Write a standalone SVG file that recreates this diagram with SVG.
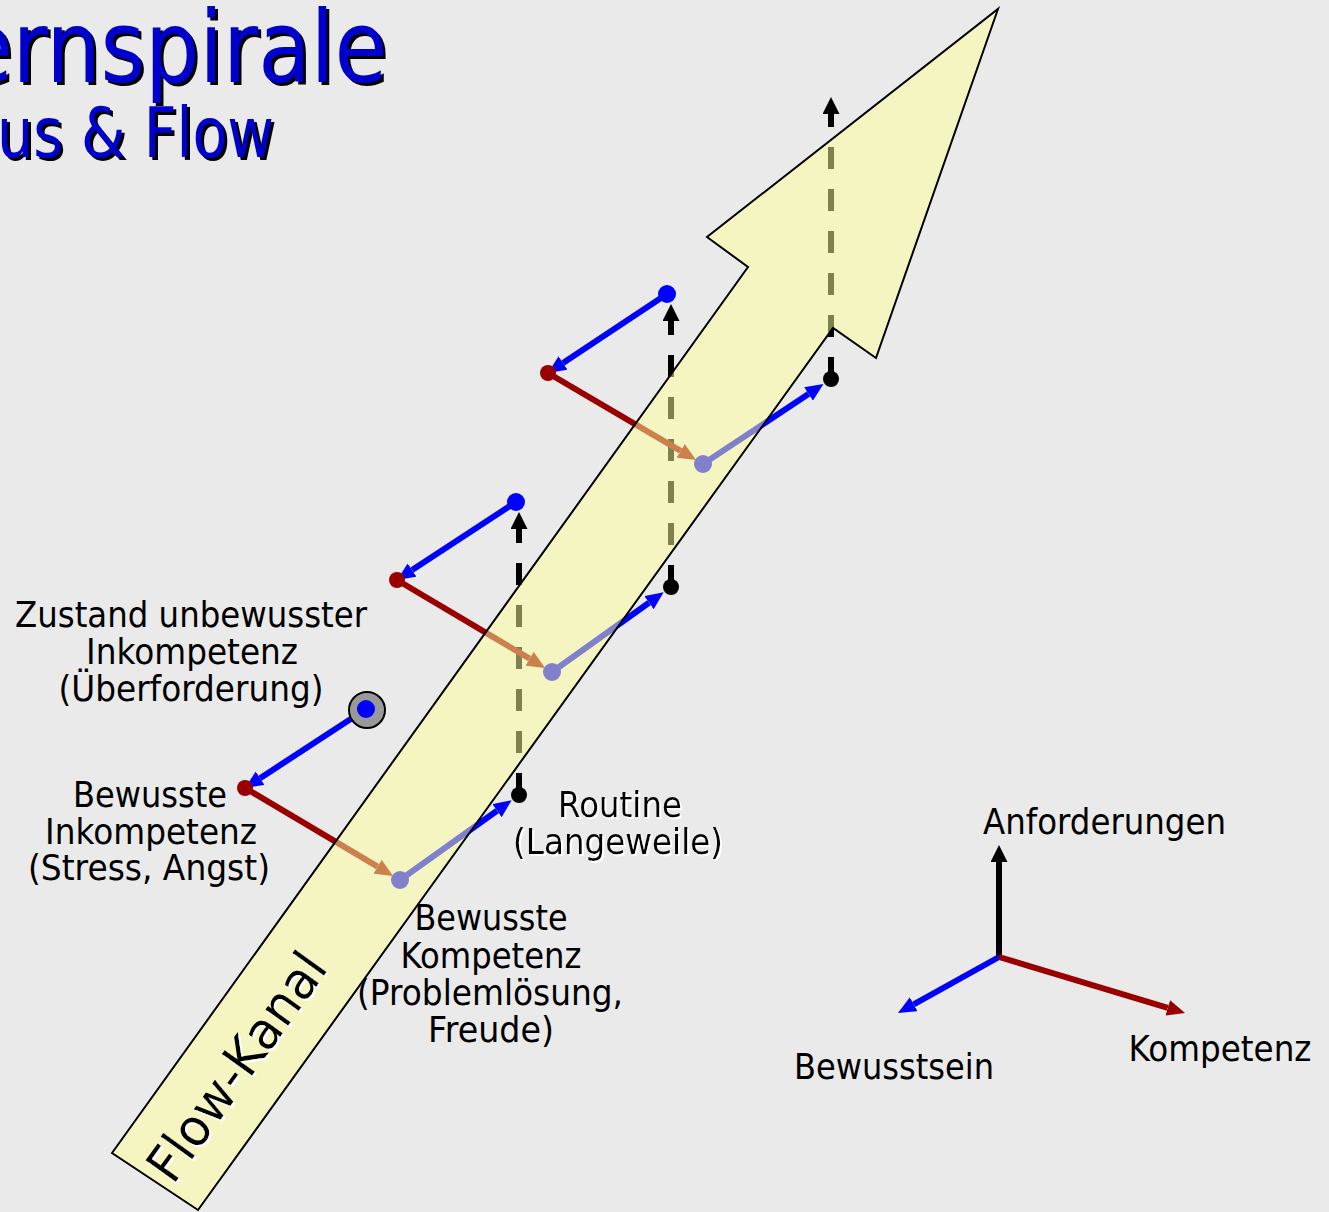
<svg xmlns="http://www.w3.org/2000/svg" width="1329" height="1212" viewBox="0 0 1329 1212">
<defs>
<style>
.t{font-family:"DejaVu Sans","Liberation Sans",sans-serif;font-size:36px;fill:#000}
.ti{font-family:"DejaVu Sans","Liberation Sans",sans-serif;fill:#0000cc}
.ts{font-family:"DejaVu Sans","Liberation Sans",sans-serif;fill:#000}
.ln{fill:none;stroke-width:6;stroke-linecap:butt}
.b{stroke:#0000ff}
.r{stroke:#990000}
.k{stroke:#000}
.d{stroke-dasharray:22 20}
</style>
<filter id="shk" x="-10%" y="-10%" width="120%" height="140%">
<feOffset in="SourceAlpha" dx="3" dy="3" result="o"/>
<feFlood flood-color="#000"/>
<feComposite in2="o" operator="in" result="s"/>
<feMerge><feMergeNode in="s"/><feMergeNode in="SourceGraphic"/></feMerge>
</filter>
<filter id="shw" x="-10%" y="-10%" width="120%" height="130%">
<feOffset in="SourceAlpha" dx="1.5" dy="1.5" result="o"/>
<feFlood flood-color="#fff"/>
<feComposite in2="o" operator="in" result="s"/>
<feMerge><feMergeNode in="s"/><feMergeNode in="SourceGraphic"/></feMerge>
</filter>
<marker id="hb" markerUnits="userSpaceOnUse" viewBox="0 0 18 16" markerWidth="18" markerHeight="16" refX="0" refY="8" orient="auto"><path d="M0,0 L18,8 L0,16 z" fill="#0000ff"/></marker>
<marker id="hr" markerUnits="userSpaceOnUse" viewBox="0 0 18 16" markerWidth="18" markerHeight="16" refX="0" refY="8" orient="auto"><path d="M0,0 L18,8 L0,16 z" fill="#990000"/></marker>
<marker id="hk" markerUnits="userSpaceOnUse" viewBox="0 0 17 17" markerWidth="17" markerHeight="17" refX="0" refY="8.5" orient="auto"><path d="M0,0 L17,8.5 L0,17 z" fill="#000"/></marker>
</defs>
<rect x="0" y="0" width="1329" height="1212" fill="#eaeaea"/>

<g id="title" filter="url(#shk)">
<text class="ti" x="-40" y="82" font-size="100" textLength="427" lengthAdjust="spacingAndGlyphs">ernspirale</text>
<text class="ti" x="-3" y="157" font-size="69" textLength="277" lengthAdjust="spacingAndGlyphs">us &amp; Flow</text>
</g>

<g id="connectors">
<line class="ln b" x1="366" y1="709" x2="260.1" y2="778.2" marker-end="url(#hb)"/>
<line class="ln r" x1="245" y1="788" x2="377.6" y2="866.7" marker-end="url(#hr)"/>
<line class="ln b" x1="400" y1="880" x2="497" y2="810.7" marker-end="url(#hb)"/>
<line class="ln k d" x1="519" y1="795" x2="519" y2="529" marker-end="url(#hk)"/>
<line class="ln b" x1="516" y1="502" x2="412.1" y2="570.1" marker-end="url(#hb)"/>
<line class="ln r" x1="397" y1="580" x2="529.6" y2="658.7" marker-end="url(#hr)"/>
<line class="ln b" x1="552" y1="672" x2="649" y2="602.7" marker-end="url(#hb)"/>
<line class="ln k d" x1="671" y1="587" x2="671" y2="321" marker-end="url(#hk)"/>
<line class="ln b" x1="667" y1="294" x2="563" y2="363" marker-end="url(#hb)"/>
<line class="ln r" x1="548" y1="373" x2="680.6" y2="450.9" marker-end="url(#hr)"/>
<line class="ln b" x1="703" y1="464" x2="808.5" y2="394" marker-end="url(#hb)"/>
<line class="ln k d" x1="831" y1="379" x2="831" y2="114" marker-end="url(#hk)"/>
</g>

<g id="start-node">
<circle cx="367" cy="710" r="18" fill="#999999" stroke="#000" stroke-width="2"/>
<circle cx="366" cy="709" r="9" fill="#0000ff"/>
</g>
<g id="node-r1"><circle cx="245" cy="788" r="8" fill="#990000"/></g>
<g id="node-l1"><circle cx="400" cy="880" r="9" fill="#0000ff"/></g>
<g id="node-k1"><circle cx="519" cy="795" r="8" fill="#000"/></g>
<g id="node-b2"><circle cx="516" cy="502" r="9" fill="#0000ff"/></g>
<g id="node-r2"><circle cx="397" cy="580" r="8" fill="#990000"/></g>
<g id="node-l2"><circle cx="552" cy="672" r="9" fill="#0000ff"/></g>
<g id="node-k2"><circle cx="671" cy="587" r="8" fill="#000"/></g>
<g id="node-b3"><circle cx="667" cy="294" r="9" fill="#0000ff"/></g>
<g id="node-r3"><circle cx="548" cy="373" r="8" fill="#990000"/></g>
<g id="node-l3"><circle cx="703" cy="464" r="9" fill="#0000ff"/></g>
<g id="node-k3"><circle cx="831" cy="379" r="8" fill="#000"/></g>

<g id="flow-kanal">
<polygon points="112,1153 748,267 707,237 998,9 876,358 833,328 198,1210" fill="#ffff99" fill-opacity="0.5" stroke="#000" stroke-width="2" stroke-linejoin="miter"/>
<g filter="url(#shw)">
<text class="ts" transform="translate(173,1186) rotate(-54.3)" x="0" y="0" font-size="51" textLength="268" lengthAdjust="spacingAndGlyphs">Flow-Kanal</text>
</g>
</g>

<g id="label-zustand">
<text class="t" x="191" y="627" text-anchor="middle" textLength="352" lengthAdjust="spacingAndGlyphs">Zustand unbewusster</text>
<text class="t" x="192" y="664" text-anchor="middle" textLength="212" lengthAdjust="spacingAndGlyphs">Inkompetenz</text>
<text class="t" x="191" y="701" text-anchor="middle" textLength="265" lengthAdjust="spacingAndGlyphs">(Überforderung)</text>
</g>
<g id="label-bewusste-inkompetenz">
<text class="t" x="150" y="807" text-anchor="middle" textLength="154" lengthAdjust="spacingAndGlyphs">Bewusste</text>
<text class="t" x="151" y="844" text-anchor="middle" textLength="212" lengthAdjust="spacingAndGlyphs">Inkompetenz</text>
<text class="t" x="149" y="880" text-anchor="middle" textLength="242" lengthAdjust="spacingAndGlyphs">(Stress, Angst)</text>
</g>
<g id="label-routine" filter="url(#shw)">
<text class="t" x="620" y="817" text-anchor="middle" textLength="124" lengthAdjust="spacingAndGlyphs">Routine</text>
<text class="t" x="618" y="854" text-anchor="middle" textLength="210" lengthAdjust="spacingAndGlyphs">(Langeweile)</text>
</g>
<g id="label-bewusste-kompetenz">
<text class="t" x="491" y="930" text-anchor="middle" textLength="153" lengthAdjust="spacingAndGlyphs">Bewusste</text>
<text class="t" x="491" y="968" text-anchor="middle" textLength="181" lengthAdjust="spacingAndGlyphs">Kompetenz</text>
<text class="t" x="490" y="1005" text-anchor="middle" textLength="266" lengthAdjust="spacingAndGlyphs">(Problemlösung,</text>
<text class="t" x="491" y="1042" text-anchor="middle" textLength="126" lengthAdjust="spacingAndGlyphs">Freude)</text>
</g>

<g id="legend">
<line class="ln k" x1="999" y1="957" x2="999" y2="862" marker-end="url(#hk)"/>
<line class="ln b" x1="999" y1="957" x2="913.7" y2="1004.3" marker-end="url(#hb)"/>
<line class="ln r" x1="999" y1="957" x2="1167.8" y2="1007.8" marker-end="url(#hr)"/>
<text class="t" x="983" y="834" textLength="243" lengthAdjust="spacingAndGlyphs">Anforderungen</text>
<text class="t" x="1220" y="1061" text-anchor="middle" textLength="183" lengthAdjust="spacingAndGlyphs">Kompetenz</text>
<text class="t" x="894" y="1079" text-anchor="middle" textLength="200" lengthAdjust="spacingAndGlyphs">Bewusstsein</text>
</g>
</svg>
